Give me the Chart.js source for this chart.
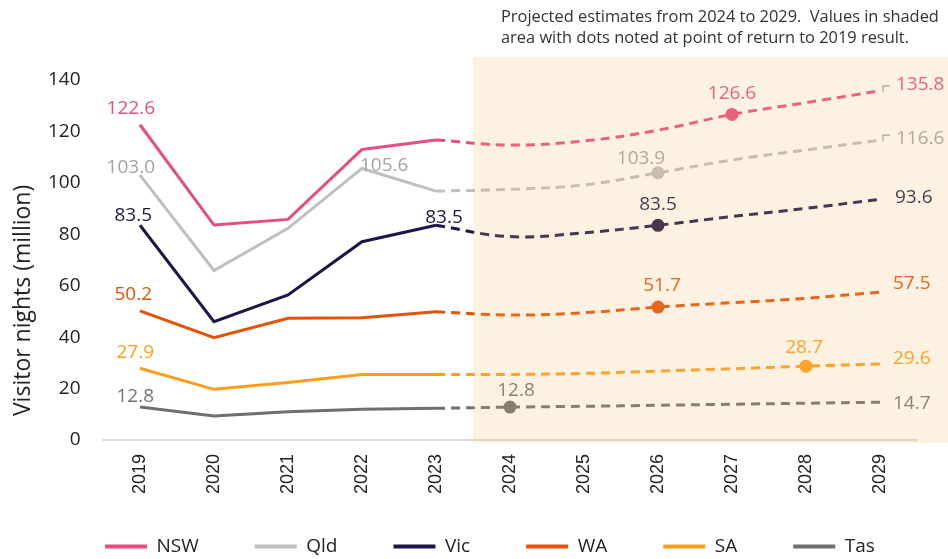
<!DOCTYPE html>
<html>
<head>
<meta charset="utf-8">
<script src="https://cdn.jsdelivr.net/npm/chart.js@4.4.1/dist/chart.umd.min.js"></script>
<style>
html,body{margin:0;padding:0;background:#ffffff;}
#wrap{width:948px;height:559px;position:relative;}
canvas{display:block;}
</style>
</head>
<body>
<div id="wrap"><canvas id="c" width="948" height="559"></canvas></div>
<script>
// ---- data ----
const years = ['2019','2020','2021','2022','2023','2024','2025','2026','2027','2028','2029'];
const nsw = [122.6, 83.6, 85.8, 113.0, 116.7, 114.7, 116.3, 120.5, 126.6, 131.2, 135.8];
const qld = [103.0, 65.9, 82.3, 105.6, 96.8, 97.5, 99.2, 103.9, 108.9, 112.8, 116.6];
const vic = [83.5, 46.0, 56.4, 77.1, 83.5, 79.1, 80.6, 83.5, 86.9, 90.1, 93.6];
const wa  = [50.2, 39.8, 47.3, 47.5, 49.9, 48.6, 49.5, 51.7, 53.4, 55.1, 57.5];
const sa  = [27.9, 19.7, 22.4, 25.5, 25.5, 25.5, 25.9, 26.8, 27.7, 28.7, 29.6];
const tas = [12.8, 9.3, 11.0, 12.0, 12.3, 12.8, 13.1, 13.5, 13.9, 14.3, 14.7];
const seriesNames = ['NSW', 'Qld', 'Vic', 'WA', 'SA', 'Tas'];
const lastActualIndex = 4;            // 2023 = last actual year
const returnIndex = [8, 7, 7, 7, 9, 5]; // year each state returns to its 2019 result
const yTickMin = 0, yTickMax = 140, yTickStep = 20;
const yTitle = 'Visitor nights (million)';
const noteLines = ['Projected estimates from 2024 to 2029.  Values in shaded',
                   'area with dots noted at point of return to 2019 result.'];

// ---- styles ----
const allSeries = [nsw, qld, vic, wa, sa, tas];
const lineColors  = ['#E94C80', '#BFBFBF', '#201547', '#E35205', '#FF9E1B', '#6F6F71'];
const labelColors = ['#E94C80', '#A3A3A3', '#201547', '#E35205', '#FF9E1B', '#737373'];
const FONT = '"Open Sans", "Noto Sans", sans-serif';

// label placements: [series, index, dx, dy, align]
const labelSpecs = [
  [0,0,15,-16,'right'], [1,0,15,-8,'right'], [2,0,12,-10,'right'],
  [3,0,12,-16,'right'], [4,0,14,-16,'right'], [5,0,14,-10,'right'],
  [1,3,-2,-3,'left'], [2,4,8,-8,'center'],
  [0,8,0,-21,'center'], [1,7,-17,-14,'center'], [2,7,0,-21,'center'],
  [3,7,4,-21,'center'], [4,9,-2,-19,'center'], [5,5,6,-16,'center'],
  [0,10,16,-6,'left'], [1,10,16,-2,'left'], [2,10,15,-2,'left'],
  [3,10,13,-9,'left'], [4,10,13,-5,'left'], [5,10,13,1,'left']
];

const datasets = [];
allSeries.forEach((vals, s) => {
  datasets.push({
    label: seriesNames[s],
    data: vals.map((v, i) => i <= lastActualIndex ? v : null),
    borderColor: lineColors[s],
    backgroundColor: lineColors[s],
    borderWidth: 3,
    pointRadius: 0,
    tension: 0,
    spanGaps: false
  });
});
allSeries.forEach((vals, s) => {
  datasets.push({
    label: seriesNames[s] + ' projected',
    data: vals.map((v, i) => i >= lastActualIndex ? v : null),
    borderColor: lineColors[s],
    backgroundColor: lineColors[s],
    borderWidth: 3,
    borderDash: [9, 6],
    tension: 0.4,
    pointRadius: (ctx) => ctx.dataIndex === returnIndex[s] ? 6.5 : 0,
    pointBackgroundColor: lineColors[s],
    pointBorderWidth: 0,
    spanGaps: false
  });
});

const decorPlugin = {
  id: 'decor',
  afterDatasetsDraw(chart) {
    const ctx = chart.ctx;
    const area = chart.chartArea;
    const xs = chart.scales.x;
    ctx.save();
    // value labels
    ctx.font = '19px ' + FONT;
    ctx.textBaseline = 'middle';
    labelSpecs.forEach(([s, i, dx, dy, align]) => {
      const meta = chart.getDatasetMeta(i <= lastActualIndex ? s : s + 6);
      const pt = meta.data[i];
      if (!pt) return;
      ctx.fillStyle = labelColors[s];
      ctx.textAlign = align;
      ctx.fillText(allSeries[s][i].toFixed(1), pt.x + dx, pt.y + dy);
    });
    // leader hooks for the two top end labels
    ctx.strokeStyle = '#9A9A9A';
    ctx.lineWidth = 1.2;
    [0, 1].forEach(s => {
      const pt = chart.getDatasetMeta(s + 6).data[years.length - 1];
      ctx.beginPath();
      ctx.moveTo(pt.x + 3, pt.y + 1);
      ctx.lineTo(pt.x + 3, pt.y - 5);
      ctx.lineTo(pt.x + 10, pt.y - 5);
      ctx.stroke();
    });
    // shaded projection overlay
    const x0 = (xs.getPixelForTick(lastActualIndex) + xs.getPixelForTick(lastActualIndex + 1)) / 2;
    ctx.fillStyle = 'rgba(245,185,110,0.2)';
    ctx.fillRect(x0, area.top - 23, chart.width - x0, area.bottom - area.top + 26);
    // note
    ctx.fillStyle = '#333333';
    ctx.font = '16.4px ' + FONT;
    ctx.textAlign = 'left';
    ctx.fillText(noteLines[0], x0 + 28, 17);
    ctx.fillText(noteLines[1], x0 + 28, 38);
    ctx.restore();
  }
};

new Chart(document.getElementById('c'), {
  type: 'line',
  data: { labels: years, datasets },
  options: {
    responsive: false,
    devicePixelRatio: 1,
    animation: false,
    layout: { padding: { top: 80, right: 31, bottom: 0, left: 68 } },
    plugins: {
      tooltip: { enabled: false },
      legend: {
        position: 'bottom',
        align: 'start',
        maxHeight: 59,
        labels: {
          filter: (item) => item.datasetIndex < 6,
          generateLabels: (chart) => Chart.defaults.plugins.legend.labels.generateLabels(chart)
            .map(it => Object.assign(it, {
              text: it.datasetIndex < 5 ? it.text + '\u2003' : it.text,
              fillStyle: it.strokeStyle, lineWidth: 0 })),
          boxWidth: 42,
          boxHeight: 4,
          padding: 37,
          color: '#222222',
          font: { family: FONT, size: 19 }
        }
      }
    },
    scales: {
      x: {
        offset: true,
        grid: { display: false, drawTicks: false },
        border: { display: true, color: '#DCDCDC', width: 2 },
        ticks: {
          autoSkip: false, minRotation: 90, maxRotation: 90, padding: 14,
          color: '#222222', font: { family: '"Liberation Sans", Arial, sans-serif', size: 18 }
        },
        afterFit: (sc) => { sc.height = 60; }
      },
      y: {
        min: yTickMin, max: yTickMax,
        grid: { display: false, drawTicks: false },
        border: { display: false },
        ticks: { stepSize: yTickStep, mirror: true, crossAlign: 'far', padding: -55,
                 color: '#222222', font: { family: FONT, size: 19 } },
        title: { display: true, text: '    ' + yTitle, align: 'start', color: '#222222',
                 font: { family: FONT, size: 23 }, padding: { top: -58.8, bottom: 0 } },
        afterFit: (sc) => { sc.width = 35; }
      }
    }
  },
  plugins: [decorPlugin]
});
</script>
</body>
</html>
